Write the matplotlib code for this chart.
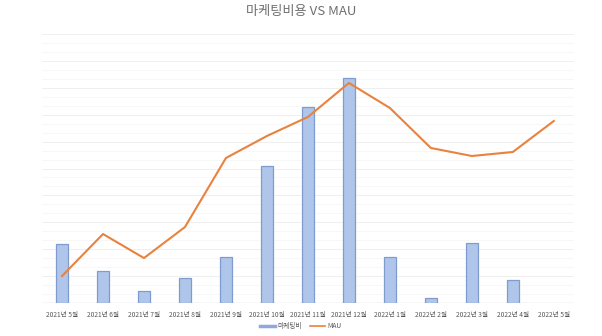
import matplotlib.pyplot as plt
from matplotlib.lines import Line2D
import numpy as np

plt.rcParams['font.family'] = ['Noto Sans CJK KR', 'DejaVu Sans']

months = ['2021년 5월', '2021년 6월', '2021년 7월', '2021년 8월', '2021년 9월',
          '2021년 10월', '2021년 11월', '2021년 12월', '2022년 1월', '2022년 2월',
          '2022년 3월', '2022년 4월', '2022년 5월']
# values (no axis labels in the original, arbitrary units)
marketing = [59, 32, 12, 25, 46, 137, 196, 225, 46, 5, 60, 23, 0]
mau = [27, 69, 45, 76, 145, 167, 186, 220, 195, 155, 147, 151, 182]

fig = plt.figure(figsize=(6.02, 3.36), dpi=100)
ax = fig.add_axes([0.069, 0.098, 0.885, 0.801])
ax2 = ax.twinx()

x = np.arange(len(months))
edge_w = [0.9 if v > 0 else 0 for v in marketing]  # no stub for empty month
ax.bar(x, marketing, width=0.3, color='#afc5ea', edgecolor='#7f9cd0',
       linewidth=edge_w, zorder=3)
ax2.plot(x, mau, color='#e8823e', linewidth=1.5, zorder=4)

ax.set_ylim(0, 269)
ax2.set_ylim(0, 269)
ax.set_xlim(-0.5, len(months) - 0.5)

# faint grid lines
for y in np.linspace(0, 269, 31)[1:]:
    ax.axhline(y, color='#f7f7f7', linewidth=0.7, zorder=0)
for y in np.linspace(0, 269, 11)[1:]:
    ax.axhline(y, color='#efefef', linewidth=0.7, zorder=1)
ax.axhline(0, color='#d9d9d9', linewidth=1.0, zorder=2)

ax.set_xticks(x)
ax.set_xticklabels(months, fontsize=4.8, color='#595959')
ax.tick_params(axis='x', length=0, pad=6)
ax.set_yticks([])
ax2.set_yticks([])
for a in (ax, ax2):
    for s in a.spines.values():
        s.set_visible(False)

fig.suptitle('마케팅비용 VS MAU', x=0.5, y=0.985, fontsize=9.5,
             color='#6f6f6f', fontweight='medium')

handles = [Line2D([], [], color='#8eaadb', linewidth=2.5),
           Line2D([], [], color='#e8823e', linewidth=1.2)]
fig.legend(handles, ['마케팅비', 'MAU'], loc='center',
           bbox_to_anchor=(0.5, 0.03), ncol=2, frameon=False, fontsize=4.8,
           labelcolor='#595959', handlelength=2.2, columnspacing=1.2,
           handletextpad=0.4)

fig.savefig('out.png', dpi=100)
